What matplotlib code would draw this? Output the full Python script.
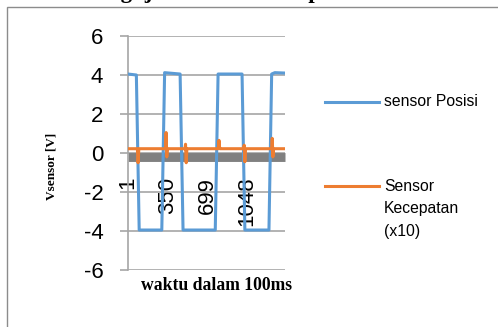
import matplotlib.pyplot as plt
from matplotlib.lines import Line2D
from matplotlib.patches import Rectangle

# sample index (x) and voltage (y) vertices
posisi_x = [1, 75, 100, 300, 325, 462, 488, 773, 798, 1010, 1035, 1248, 1272, 1300, 1390]
posisi_y = [4.05, 4.0, -3.95, -3.95, 4.12, 4.05, -3.95, -3.95, 4.05, 4.05, -3.95, -3.95, 4.05, 4.12, 4.1]

kecepatan_x = [1, 84, 90, 97, 333, 338, 344, 350, 356, 505, 510, 516, 522, 800, 806, 812,
               818, 1024, 1029, 1035, 1041, 1272, 1277, 1283, 1289, 1295, 1390]
kecepatan_y = [0.22, 0.22, -0.5, 0.22, 0.22, 1.05, -0.2, 0.22, 0.22, 0.22, 0.45, -0.5, 0.22,
               0.22, 0.65, 0.22, 0.22, 0.22, 0.4, -0.45, 0.22, 0.22, 0.75, -0.2, 0.22, 0.22, 0.22]

x_ticks = [1, 350, 699, 1048]
y_ticks = [-6, -4, -2, 0, 2, 4, 6]

W, H = 498, 327
fig = plt.figure(figsize=(W / 100, H / 100), dpi=100)
ax = fig.add_axes([128 / W, 1 - 270 / H, 157 / W, 234 / H])

grid_col = '#a6a6a6'
ax.plot(posisi_x, posisi_y, color='#5b9bd5', lw=2.2, zorder=3)
ax.plot(kecepatan_x, kecepatan_y, color='#ed7d31', lw=2.2, zorder=4)

ax.set_xlim(1, 1390)
ax.set_ylim(-6, 6)
ax.set_yticks(y_ticks)
ax.set_yticklabels([str(v) for v in y_ticks])
ax.set_xticks(x_ticks)
ax.set_xticklabels([str(v) for v in x_ticks])

ax.set_axisbelow(True)
ax.grid(axis='y', color=grid_col, lw=1.2)
for s in ['top', 'right']:
    ax.spines[s].set_visible(False)
ax.spines['left'].set_color(grid_col)
ax.spines['left'].set_linewidth(1.2)
# thick grey horizontal axis line just under zero
ax.spines['bottom'].set_position(('data', -0.22))
ax.spines['bottom'].set_color('#808080')
ax.spines['bottom'].set_linewidth(6.4)
ax.spines['bottom'].set_capstyle('butt')
ax.spines['bottom'].set_zorder(2)

ax.tick_params(axis='y', length=5.8, width=1.2, color=grid_col, pad=12)
ax.tick_params(axis='x', length=0, pad=14, labelrotation=90)
for lab in ax.get_yticklabels() + ax.get_xticklabels():
    lab.set_fontfamily('Liberation Sans')
    lab.set_fontsize(16)
for lab in ax.get_xticklabels():
    lab.set_va('top')
    lab.set_ha('center')

serif = 'Liberation Serif'
fig.text(216 / W, 1 - 285 / H, 'waktu dalam 100ms', ha='center', va='center',
         fontfamily=serif, fontweight='bold', fontsize=12.7)
fig.text(51 / W, 1 - 166 / H, 'Vsensor [V]', ha='center', va='center', rotation=90,
         fontfamily=serif, fontweight='bold', fontsize=9.5)

# title text cut off at the top edge
fig.text(12 / W, 1 + 2 / H, 'Grafik Pengujian Sensor Kecepatan', ha='left',
         va='baseline', fontfamily=serif, fontweight='bold', fontsize=16.5)

# chart border (only top and left edges are inside the picture)
fig.add_artist(Rectangle((7 / W, -0.2), 2, 1.2 - 7 / H, transform=fig.transFigure,
                         fill=False, edgecolor='#8c8c8c', lw=1))

# legend
fig.add_artist(Line2D([325 / W, 379 / W], [1 - 102 / H] * 2, color='#5b9bd5', lw=2.2))
fig.text(384 / W, 1 - 102 / H, 'sensor Posisi', ha='left', va='center',
         fontfamily='Liberation Sans', fontsize=11.3)
fig.add_artist(Line2D([325 / W, 379 / W], [1 - 186 / H] * 2, color='#ed7d31', lw=2.2))
fig.text(384 / W, 1 - 179 / H, 'Sensor\nKecepatan\n(x10)', ha='left', va='top',
         fontfamily='Liberation Sans', fontsize=11.3, linespacing=1.62)

fig.savefig('out.png', dpi=100)
